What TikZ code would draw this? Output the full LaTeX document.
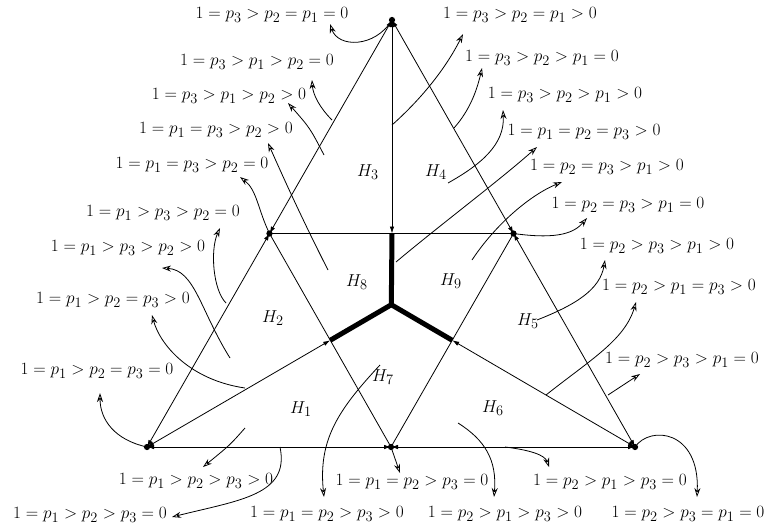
\documentclass[tikz,border=0pt]{standalone}
\usetikzlibrary{arrows.meta,calc}

\tikzset{
  punto/.style={circle,fill,inner sep=2.2pt},
  borde/.style={{Latex[length=7pt,width=4.5pt]}-{Latex[length=7pt,width=4.5pt]}},
  grueso/.style={line width=5pt},
  flecha/.style={-{Stealth[open,length=9pt,width=6pt]}},
  etiq/.style={inner sep=0pt,font=\fontsize{19}{22}\selectfont},
}

\begin{document}
\begin{tikzpicture}[x=1pt,y=-1pt,line width=0.8pt]
  \useasboundingbox (0,0) rectangle (770,528);

  % Vértices y puntos medios
  \coordinate (A1) at (147,447);
  \coordinate (A2) at (635,447);
  \coordinate (A3) at (392,20);
  \coordinate (C) at (391.3,304.7);
  \coordinate (M12) at ($(A1)!0.5!(A2)$);
  \coordinate (M13) at ($(A1)!0.5!(A3)$);
  \coordinate (M23) at ($(A2)!0.5!(A3)$);
  \coordinate (V) at (M13 -| A3);
  \coordinate (X1) at ($(A1)!0.75!(C)$);
  \coordinate (X2) at ($(A2)!0.75!(C)$);

  % Lados del triángulo
  \draw[borde] (A1) -- (M13);
  \draw[borde] (M13) -- (A3);
  \draw[borde] (A2) -- (M23);
  \draw[borde] (M23) -- (A3);
  \draw[borde] (A1) -- (M12);
  \draw[borde] (M12) -- (A2);
  \draw[borde] (A1) -- (X1);
  \draw[borde] (A2) -- (X2);
  \draw[borde] (A3) -- (V);
  \draw (M13) -- (M23);
  \draw (M13) -- (M12);
  \draw (M23) -- (M12);

  % Líneas gruesas al centro
  \draw[grueso] (V) -- (C) -- (X1);
  \draw[grueso] (C) -- (X2);

  \foreach \p in {A1,A2,A3,M12,M13,M23}
    \node[punto] at (\p) {};

  % Regiones
  \node[etiq] (h1) at (301,409) {$H_1$};
  \node[etiq] (h2) at (273,318) {$H_2$};
  \node[etiq] (h3) at (368,172) {$H_3$};
  \node[etiq] (h4) at (436,172) {$H_4$};
  \node[etiq] (h5) at (528,321) {$H_5$};
  \node[etiq] (h6) at (493,408) {$H_6$};
  \node[etiq] (h7) at (383,377) {$H_7$};
  \node[etiq] (h8) at (357,282) {$H_8$};
  \node[etiq] (h9) at (451,281) {$H_9$};

  % Etiquetas de la izquierda
  \node[etiq] (e1) at (272,15) {$1=p_3>p_2=p_1=0$};
  \node[etiq] (e2) at (257,62) {$1=p_3>p_1>p_2=0$};
  \node[etiq] (e3) at (229,96) {$1=p_3>p_1>p_2>0$};
  \node[etiq] (e4) at (216,130) {$1=p_1=p_3>p_2>0$};
  \node[etiq] (e5) at (192,165) {$1=p_1=p_3>p_2=0$};
  \node[etiq] (e6) at (163,213) {$1=p_1>p_3>p_2=0$};
  \node[etiq] (e7) at (128,248) {$1=p_1>p_3>p_2>0$};
  \node[etiq] (e8) at (113,300) {$1=p_1>p_2=p_3>0$};
  \node[etiq] (e9) at (97,371) {$1=p_1>p_2=p_3=0$};

  % Etiquetas de abajo
  \node[etiq] (e10) at (196,481) {$1=p_1>p_2>p_3>0$};
  \node[etiq] (e11) at (90,515) {$1=p_1>p_2>p_3=0$};
  \node[etiq] (e12) at (412,482) {$1=p_1=p_2>p_3=0$};
  \node[etiq] (e13) at (327,514) {$1=p_1=p_2>p_3>0$};
  \node[etiq] (e14) at (505,514) {$1=p_2>p_1>p_3>0$};
  \node[etiq] (e15) at (610,482) {$1=p_2>p_1>p_3=0$};
  \node[etiq] (e16) at (688,514) {$1=p_2>p_3=p_1=0$};

  % Etiquetas de la derecha
  \node[etiq] (e17) at (520,15) {$1=p_3>p_2=p_1>0$};
  \node[etiq] (e18) at (542,58) {$1=p_3>p_2>p_1=0$};
  \node[etiq] (e19) at (565,95) {$1=p_3>p_2>p_1>0$};
  \node[etiq] (e20) at (584,132) {$1=p_1=p_2=p_3>0$};
  \node[etiq] (e21) at (607,167) {$1=p_2=p_3>p_1>0$};
  \node[etiq] (e22) at (628,205) {$1=p_2=p_3>p_1=0$};
  \node[etiq] (e23) at (657,246) {$1=p_2>p_3>p_1>0$};
  \node[etiq] (e24) at (679,287) {$1=p_2>p_1=p_3>0$};
  \node[etiq] (e25) at (682,360) {$1=p_2>p_3>p_1=0$};

  % Puntos de salida y puntas
  \coordinate (s2) at (332,120);   \coordinate (t1) at (330,24);
  \coordinate (s3) at (324,155);   \coordinate (t2) at (312,80);
  \coordinate (s4) at (328,270);   \coordinate (t3) at (288,103);
  \coordinate (s6) at (226,303);   \coordinate (t4) at (268,143);
  \coordinate (s7) at (230,358);   \coordinate (t5) at (240,177);
  \coordinate (s8) at (245,388);   \coordinate (t6) at (220,228);
  \coordinate (s10) at (245,428);  \coordinate (t7) at (162,268);
  \coordinate (s11) at (280,447);  \coordinate (t8) at (152,315);
  \coordinate (s13) at (380,365);  \coordinate (t9) at (100,393);
  \coordinate (s14) at (458,423);  \coordinate (t10) at (203,467);
  \coordinate (s15) at (505,447);  \coordinate (t11) at (172,517);
  \coordinate (s17) at (392,125);  \coordinate (t12) at (400,473);
  \coordinate (s18) at (454,128);  \coordinate (t13) at (324,497);
  \coordinate (s19) at (448,183);  \coordinate (t14) at (494,497);
  \coordinate (s20) at (396,262);  \coordinate (t15) at (549,467);
  \coordinate (s21) at (472,260);  \coordinate (t16) at (697,497);
  \coordinate (s23) at (537,320);  \coordinate (t17) at (463,34);
  \coordinate (s24) at (546,395);  \coordinate (t18) at (482,68);
  \coordinate (s25) at (608,395);  \coordinate (t19) at (503,110);
  \coordinate (t20) at (537,147);  \coordinate (t21) at (562,182);
  \coordinate (t22) at (587,218);  \coordinate (t23) at (605,260);
  \coordinate (t24) at (636,302);  \coordinate (t25) at (640,374);

  % Flechas
  \draw[flecha] (A3) .. controls (375,48) and (338,48) .. (t1);
  \draw[flecha] (s2) .. controls (320,108) and (313,95) .. (t2);
  \draw[flecha] (s3) .. controls (310,128) .. (t3);
  \draw[flecha] (s4) .. controls (300,215) and (280,170) .. (t4);
  \draw[flecha] (M13) .. controls (258,210) and (257,190) .. (t5);
  \draw[flecha] (s6) .. controls (213,290) and (210,250) .. (t6);
  \draw[flecha] (s7) .. controls (200,310) and (195,270) .. (t7);
  \draw[flecha] (s8) .. controls (190,380) and (160,345) .. (t8);
  \draw[flecha] (A1) .. controls (115,440) and (100,420) .. (t9);
  \draw[flecha] (s10) .. controls (230,445) .. (t10);
  \draw[flecha] (s11) .. controls (290,495) and (240,500) .. (t11);
  \draw[flecha] (M12) -- (t12);
  \draw[flecha] (s13) .. controls (338,410) and (318,440) .. (t13);
  \draw[flecha] (s14) .. controls (485,440) and (497,460) .. (t14);
  \draw[flecha] (s15) .. controls (530,450) and (545,455) .. (t15);
  \draw[flecha] (A2) .. controls (650,425) and (700,430) .. (t16);
  \draw[flecha] (s17) .. controls (420,100) and (445,70) .. (t17);
  \draw[flecha] (s18) .. controls (470,110) and (477,90) .. (t18);
  \draw[flecha] (s19) .. controls (480,165) and (505,145) .. (t19);
  \draw[flecha] (s20) .. controls (440,225) and (500,180) .. (t20);
  \draw[flecha] (s21) .. controls (495,225) and (530,195) .. (t21);
  \draw[flecha] (M23) .. controls (560,240) and (575,232) .. (t22);
  \draw[flecha] (s23) .. controls (575,305) and (600,290) .. (t23);
  \draw[flecha] (s24) .. controls (590,360) and (625,340) .. (t24);
  \draw[flecha] (s25) -- (t25);

\end{tikzpicture}
\end{document}
